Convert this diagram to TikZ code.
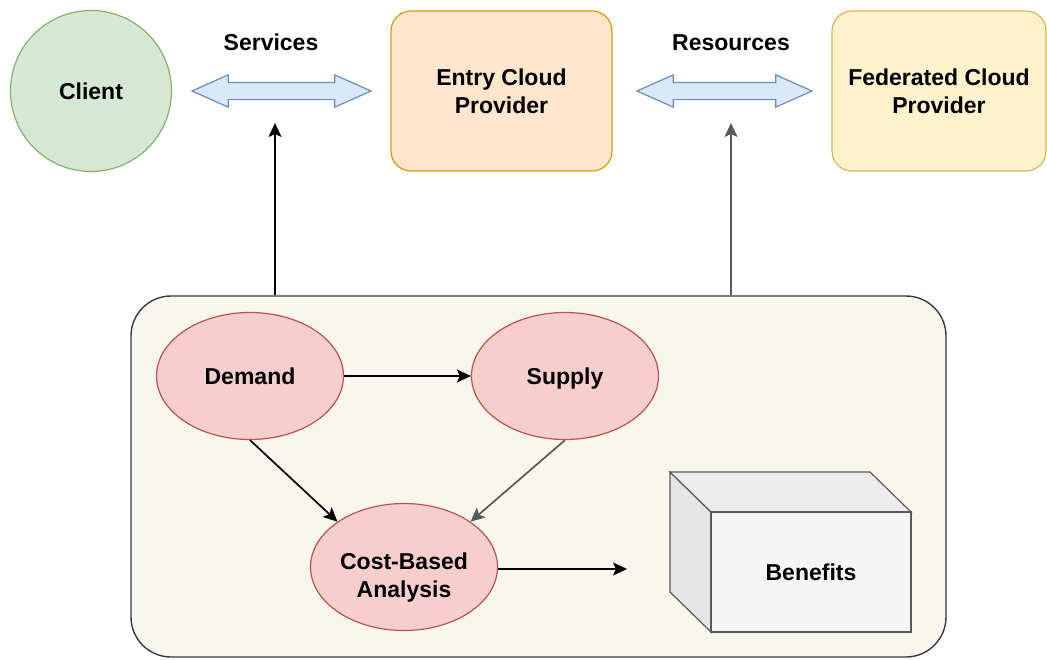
\documentclass[tikz,border=0pt]{standalone}
\usepackage{fontspec}
\setmainfont{Liberation Sans}
\usetikzlibrary{positioning}
\usetikzlibrary{calc}
\usetikzlibrary{arrows.meta}
\usetikzlibrary{shapes.geometric,shapes.arrows}
\definecolor{greenfill}{HTML}{D5E8D4}
\definecolor{greenline}{HTML}{82B366}
\definecolor{orangefill}{HTML}{FFE6CC}
\definecolor{orangeline}{HTML}{D79B00}
\definecolor{yellowfill}{HTML}{FFF2CC}
\definecolor{yellowline}{HTML}{D6B656}
\definecolor{bluefill}{HTML}{DAE8FC}
\definecolor{blueline}{HTML}{6C8EBF}
\definecolor{redfill}{HTML}{F8CECC}
\definecolor{redline}{HTML}{B85450}
\definecolor{panelfill}{HTML}{F9F7ED}
\definecolor{panelline}{HTML}{36393D}

\begin{document}
\begin{tikzpicture}[x=1pt, y=-1pt,
    txt/.style={font=\fontsize{23}{28}\selectfont\bfseries, align=center},
    oneline/.style={txt, text height=17pt, text depth=0pt},
    provider/.style={rectangle, draw, line width=1.2pt, rounded corners=20pt, minimum height=160pt, txt},
    factor/.style={ellipse, draw=redline, fill=redfill, line width=1.2pt, minimum width=187pt, minimum height=127pt, inner sep=0pt},
    link/.style={double arrow, draw=blueline, fill=bluefill, line width=1.2pt, minimum height=179pt, inner xsep=0pt, inner ysep=8pt, double arrow head extend=7.5pt, double arrow tip angle=48},
    flow/.style={-{Stealth[length=14pt, width=13pt, inset=3pt]}, line width=1.7pt}
]
    \useasboundingbox (0,0) rectangle (1047,659);

    % Top row
    \node[circle, draw=greenline, fill=greenfill, line width=1.2pt, minimum size=161pt, inner sep=0pt, oneline] (client) at (91,91) {Client};
    \node[provider, draw=orangeline, fill=orangefill, minimum width=221pt] (entry) at (501.5,91) {Entry Cloud\\Provider};
    \node[provider, draw=yellowline, fill=yellowfill, minimum width=214pt] (federated) at (939,91) {Federated Cloud\\Provider};

    \node[link] (services) at (281.5,91) {};
    \node[link, minimum height=175pt] (resources) at (724.5,91) {};
    \node[oneline] (serviceslbl) at (271,42) {Services};
    \node[oneline] (resourceslbl) at (731,42) {Resources};

    % Cost model panel
    \node[rectangle, draw=panelline, fill=panelfill, line width=1.4pt, rounded corners=40pt, minimum width=815pt, minimum height=361pt] (panel) at (538.5,476.5) {};

    \node[factor, oneline] (demand) at (250,376) {Demand};
    \node[factor, oneline] (supply) at (565,376) {Supply};
    \node[factor, txt, text height=65pt] (analysis) at (404,567) {Cost-Based\\Analysis};

    % Benefits box
    \filldraw[draw=gray!70!black, fill=gray!20, line width=1.2pt] (670,472) -- (711,512) -- (711,632) -- (670,592) -- cycle;
    \filldraw[draw=gray!70!black, fill=gray!15, line width=1.2pt] (670,472) -- (870,472) -- (911,512) -- (711,512) -- cycle;
    \node[rectangle, draw=gray!70!black, fill=gray!8, line width=1.2pt, minimum width=200pt, minimum height=120pt, oneline] (benefits) at (811,572) {Benefits};

    \coordinate (svcin) at (275,123);
    \coordinate (resin) at (731,123);
    \coordinate (benin) at (627,569);

    % Connectors
    \draw[flow] (panel.north -| svcin) -- (svcin);
    \draw[flow, gray!70!black] (panel.north -| resin) -- (resin);
    \draw[flow] (demand) -- (supply);
    \draw[flow] (demand.south) -- (analysis.north west);
    \draw[flow, gray!70!black] (supply.south) -- (analysis.north east);
    \draw[flow] (analysis.east |- benin) -- (benin);
\end{tikzpicture}
\end{document}
